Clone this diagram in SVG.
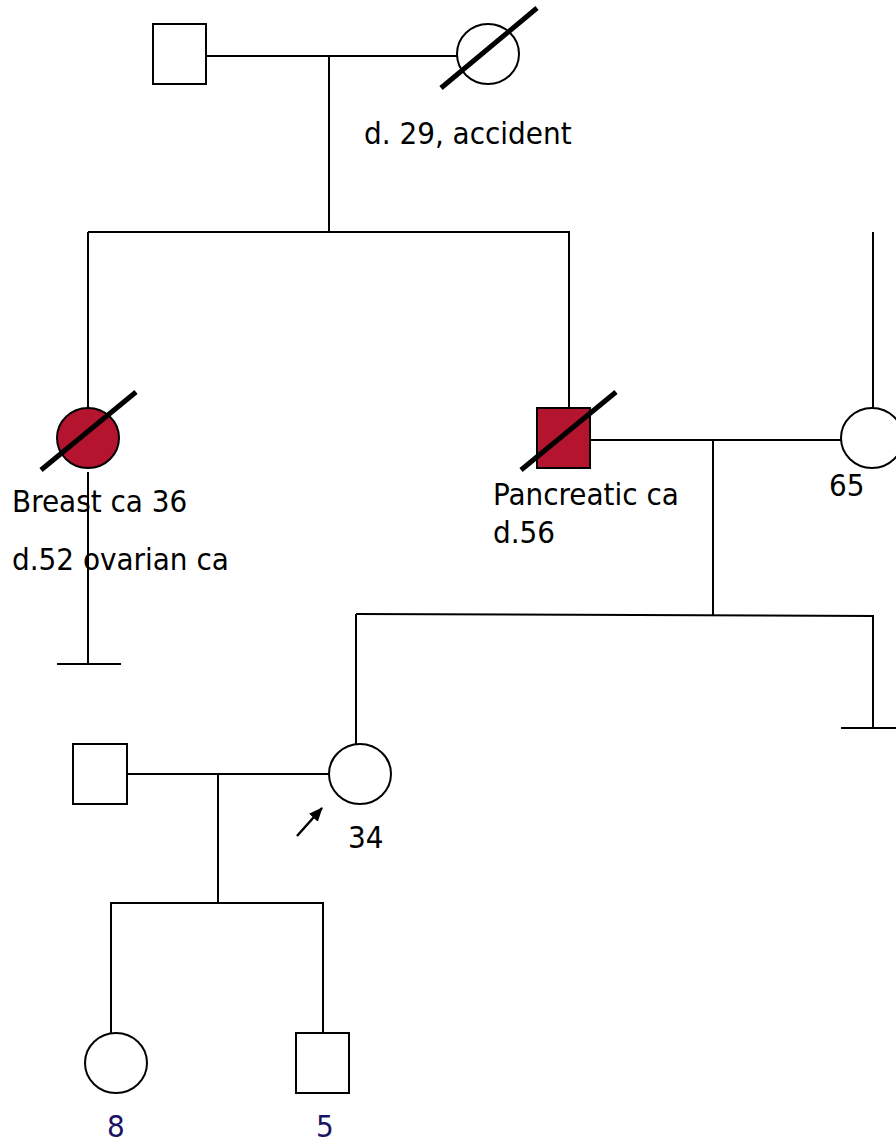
<svg xmlns="http://www.w3.org/2000/svg" width="896" height="1144" viewBox="0 0 896 1144">
<style>
.ln{stroke:#000;stroke-width:2;fill:none}
.sym{stroke:#000;stroke-width:2;fill:#fff}
.aff{stroke:#000;stroke-width:2;fill:#B5142F}
.dec{stroke:#000;stroke-width:5;fill:none}
text{font-family:"DejaVu Sans Condensed","DejaVu Sans",sans-serif;font-size:31px;fill:#000}
.age{fill:#1B1464}
</style>
<defs>
<marker id="ah" markerWidth="14" markerHeight="12" refX="13" refY="6" orient="auto" markerUnits="userSpaceOnUse" viewBox="0 0 14 12">
<path d="M0,0 L14,6 L0,12 Z" fill="#000"/>
</marker>
</defs>
<rect width="896" height="1144" fill="#fff"/>
<g id="connectors">
<line class="ln" x1="202" y1="56" x2="457" y2="56"/>
<line class="ln" x1="329" y1="56" x2="329" y2="232"/>
<line class="ln" x1="88" y1="232" x2="570" y2="232"/>
<line class="ln" x1="88" y1="232" x2="88" y2="408"/>
<line class="ln" x1="569" y1="232" x2="569" y2="408"/>
<line class="ln" x1="88" y1="472" x2="88" y2="664"/>
<line class="ln" x1="57" y1="664" x2="121" y2="664"/>
<line class="ln" x1="586" y1="440" x2="841" y2="440"/>
<line class="ln" x1="873" y1="232" x2="873" y2="408"/>
<line class="ln" x1="713" y1="440" x2="713" y2="615"/>
<line class="ln" x1="356" y1="614" x2="874" y2="616"/>
<line class="ln" x1="356" y1="614" x2="356" y2="744"/>
<line class="ln" x1="873" y1="616" x2="873" y2="728"/>
<line class="ln" x1="841" y1="728" x2="896" y2="728"/>
<line class="ln" x1="127" y1="774" x2="329" y2="774"/>
<line class="ln" x1="218" y1="774" x2="218" y2="903"/>
<line class="ln" x1="110" y1="903" x2="324" y2="903"/>
<line class="ln" x1="111" y1="903" x2="111" y2="1034"/>
<line class="ln" x1="323" y1="903" x2="323" y2="1034"/>
</g>
<g id="grandfather">
<rect class="sym" x="153" y="24" width="53" height="60"/>
</g>
<g id="grandmother">
<ellipse class="sym" cx="488" cy="54" rx="31" ry="30"/>
<line class="dec" x1="441" y1="88" x2="537" y2="8"/>
<text x="364" y="144">d. 29, accident</text>
</g>
<g id="aunt">
<ellipse class="aff" cx="88" cy="438" rx="31" ry="30"/>
<line class="dec" x1="41" y1="470" x2="136" y2="392"/>
<text x="12" y="512">Breast ca 36</text>
<text x="12" y="570">d.52 ovarian ca</text>
</g>
<g id="father">
<rect class="aff" x="537" y="408" width="53" height="60"/>
<line class="dec" x1="521" y1="470" x2="616" y2="392"/>
<text x="493" y="505">Pancreatic ca</text>
<text x="493" y="543">d.56</text>
</g>
<g id="mother">
<ellipse class="sym" cx="872" cy="438" rx="31" ry="30"/>
<text x="829" y="496">65</text>
</g>
<g id="husband">
<rect class="sym" x="73" y="744" width="54" height="60"/>
</g>
<g id="proband">
<ellipse class="sym" cx="360" cy="774" rx="31" ry="30"/>
<line stroke="#000" stroke-width="2.5" x1="297" y1="836" x2="322" y2="808" marker-end="url(#ah)"/>
<text x="348" y="848">34</text>
</g>
<g id="daughter">
<ellipse class="sym" cx="116" cy="1063" rx="31" ry="30"/>
<text class="age" x="107" y="1137">8</text>
</g>
<g id="son">
<rect class="sym" x="296" y="1033" width="53" height="60"/>
<text class="age" x="316" y="1137">5</text>
</g>
</svg>
